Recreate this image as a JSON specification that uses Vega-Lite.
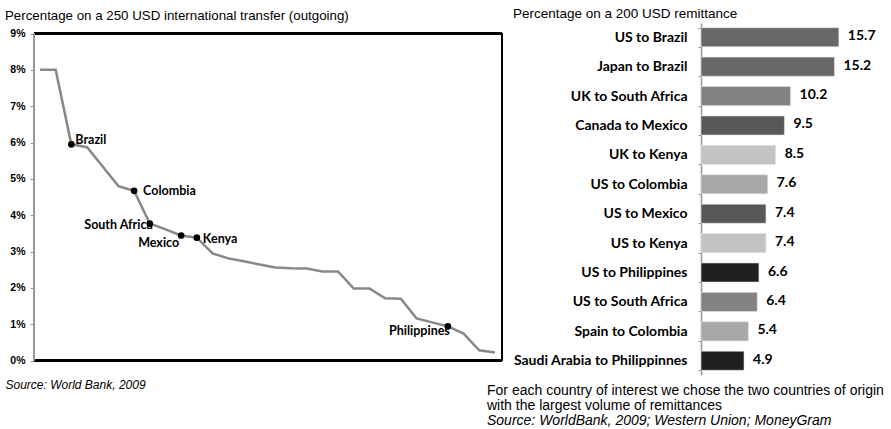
{
  "$schema": "https://vega.github.io/schema/vega-lite/v6.json",
  "padding": {"left": 5, "top": 7, "right": 0, "bottom": 0},
  "background": "white",
  "datasets": {
    "transfer": [
      {"rank": 0, "pct": 8.0, "country": ""},
      {"rank": 1, "pct": 8.0, "country": ""},
      {"rank": 2, "pct": 5.95, "country": "Brazil"},
      {"rank": 3, "pct": 5.87, "country": ""},
      {"rank": 4, "pct": 5.34, "country": ""},
      {"rank": 5, "pct": 4.8, "country": ""},
      {"rank": 6, "pct": 4.67, "country": "Colombia"},
      {"rank": 7, "pct": 3.77, "country": "South Africa"},
      {"rank": 8, "pct": 3.61, "country": ""},
      {"rank": 9, "pct": 3.44, "country": "Mexico"},
      {"rank": 10, "pct": 3.38, "country": "Kenya"},
      {"rank": 11, "pct": 2.95, "country": ""},
      {"rank": 12, "pct": 2.81, "country": ""},
      {"rank": 13, "pct": 2.73, "country": ""},
      {"rank": 14, "pct": 2.64, "country": ""},
      {"rank": 15, "pct": 2.56, "country": ""},
      {"rank": 16, "pct": 2.54, "country": ""},
      {"rank": 17, "pct": 2.53, "country": ""},
      {"rank": 18, "pct": 2.45, "country": ""},
      {"rank": 19, "pct": 2.45, "country": ""},
      {"rank": 20, "pct": 1.98, "country": ""},
      {"rank": 21, "pct": 1.98, "country": ""},
      {"rank": 22, "pct": 1.71, "country": ""},
      {"rank": 23, "pct": 1.7, "country": ""},
      {"rank": 24, "pct": 1.16, "country": ""},
      {"rank": 25, "pct": 1.05, "country": ""},
      {"rank": 26, "pct": 0.94, "country": "Philippines"},
      {"rank": 27, "pct": 0.74, "country": ""},
      {"rank": 28, "pct": 0.28, "country": ""},
      {"rank": 29, "pct": 0.22, "country": ""}
    ],
    "remit": [
      {"corridor": "US to Brazil", "value": 15.7, "dest": "Brazil"},
      {"corridor": "Japan to Brazil", "value": 15.2, "dest": "Brazil"},
      {"corridor": "UK to South Africa", "value": 10.2, "dest": "South Africa"},
      {"corridor": "Canada to Mexico", "value": 9.5, "dest": "Mexico"},
      {"corridor": "UK to Kenya", "value": 8.5, "dest": "Kenya"},
      {"corridor": "US to Colombia", "value": 7.6, "dest": "Colombia"},
      {"corridor": "US to Mexico", "value": 7.4, "dest": "Mexico"},
      {"corridor": "US to Kenya", "value": 7.4, "dest": "Kenya"},
      {"corridor": "US to Philippines", "value": 6.6, "dest": "Philippines"},
      {"corridor": "US to South Africa", "value": 6.4, "dest": "South Africa"},
      {"corridor": "Spain to Colombia", "value": 5.4, "dest": "Colombia"},
      {"corridor": "Saudi Arabia to Philippinnes", "value": 4.9, "dest": "Philippines"}
    ]
  },
  "title": {
    "text": ["For each country of interest we chose the two countries of origin", "with  the largest volume of remittances"],
    "subtitle": "Source: WorldBank, 2009; Western Union; MoneyGram",
    "orient": "bottom",
    "anchor": "start",
    "frame": "bounds",
    "dx": 482,
    "offset": -7,
    "font": "Liberation Sans",
    "fontSize": 14,
    "fontWeight": "normal",
    "color": "#000",
    "lineHeight": 15,
    "subtitleFont": "Liberation Sans",
    "subtitleFontSize": 14,
    "subtitleFontStyle": "italic",
    "subtitleColor": "#000",
    "subtitlePadding": 1
  },
  "spacing": 8,
  "hconcat": [
    {
      "width": 468,
      "height": 337.5,
      "view": {"stroke": null},
      "title": {
        "text": "Percentage on a 250 USD international transfer (outgoing)",
        "anchor": "start",
        "frame": "bounds",
        "offset": 0.5,
        "font": "Liberation Sans",
        "fontSize": 13.3,
        "fontWeight": "normal",
        "color": "#000"
      },
      "data": {"name": "transfer"},
      "encoding": {
        "x": {
          "field": "rank",
          "type": "quantitative",
          "scale": {"domain": [-0.38, 29.45], "nice": false, "zero": false},
          "axis": {
            "domain": false, "ticks": false, "labels": false, "grid": false,
            "title": "Source: World Bank, 2009",
            "titleFont": "Liberation Sans", "titleFontSize": 12, "titleFontStyle": "italic",
            "titleFontWeight": "normal", "titleColor": "#000",
            "titleAnchor": "start", "titleAlign": "left", "titleX": -29, "titlePadding": 19
          }
        },
        "y": {
          "field": "pct",
          "type": "quantitative",
          "scale": {"domain": [0, 9.289], "nice": false},
          "axis": {
            "values": [0, 1, 2, 3, 4, 5, 6, 7, 8, 9],
            "labelExpr": "datum.value + '%'",
            "grid": false, "title": null, "domain": false,
            "tickColor": "#999", "tickSize": 4,
            "labelFont": "Liberation Sans", "labelFontSize": 10.5, "labelFontWeight": "bold",
            "labelColor": "#000", "labelPadding": 5
          }
        }
      },
      "layer": [
        {"mark": {"type": "rule", "color": "#000", "strokeWidth": 2.5}, "encoding": {"x": null, "y": {"datum": 9}}},
        {"mark": {"type": "rule", "color": "#000", "strokeWidth": 2.5}, "encoding": {"x": null, "y": {"datum": 0}}},
        {"mark": {"type": "rule", "color": "#999", "strokeWidth": 1.5}, "encoding": {"x": {"datum": -0.38}, "y": {"datum": 0}, "y2": {"datum": 9}}},
        {"mark": {"type": "rule", "color": "#000", "strokeWidth": 1}, "encoding": {"x": {"datum": 29.45}, "y": {"datum": 0}, "y2": {"datum": 9}}},
        {"mark": {"type": "line", "color": "#888888", "strokeWidth": 2.5}},
        {"transform": [{"filter": "datum.country != ''"}], "mark": {"type": "point", "filled": true, "color": "#000", "size": 45, "opacity": 1}},
        {"transform": [{"filter": "datum.country == 'Brazil'"}], "mark": {"type": "text", "align": "left", "dx": 4, "dy": -4, "font": "Lato", "fontSize": 12.5, "fontWeight": "bold", "color": "#000"}, "encoding": {"text": {"field": "country"}}},
        {"transform": [{"filter": "datum.country == 'Colombia'"}], "mark": {"type": "text", "align": "left", "dx": 9, "dy": 0, "font": "Lato", "fontSize": 12.5, "fontWeight": "bold", "color": "#000"}, "encoding": {"text": {"field": "country"}}},
        {"transform": [{"filter": "datum.country == 'South Africa'"}], "mark": {"type": "text", "align": "right", "dx": 3, "dy": 1, "font": "Lato", "fontSize": 12.5, "fontWeight": "bold", "color": "#000"}, "encoding": {"text": {"field": "country"}}},
        {"transform": [{"filter": "datum.country == 'Mexico'"}], "mark": {"type": "text", "align": "right", "dx": -2, "dy": 7, "font": "Lato", "fontSize": 12.5, "fontWeight": "bold", "color": "#000"}, "encoding": {"text": {"field": "country"}}},
        {"transform": [{"filter": "datum.country == 'Kenya'"}], "mark": {"type": "text", "align": "left", "dx": 6, "dy": 1, "font": "Lato", "fontSize": 12.5, "fontWeight": "bold", "color": "#000"}, "encoding": {"text": {"field": "country"}}},
        {"transform": [{"filter": "datum.country == 'Philippines'"}], "mark": {"type": "text", "align": "right", "dx": 2, "dy": 5, "font": "Lato", "fontSize": 12.5, "fontWeight": "bold", "color": "#000"}, "encoding": {"text": {"field": "country"}}}
      ]
    },
    {
      "width": 180,
      "height": 352,
      "view": {"stroke": null},
      "title": {
        "text": "Percentage on a 200 USD remittance",
        "anchor": "start",
        "frame": "bounds",
        "offset": -4.5,
        "font": "Liberation Sans",
        "fontSize": 13.5,
        "fontWeight": "normal",
        "color": "#000"
      },
      "data": {"name": "remit"},
      "encoding": {
        "y": {
          "field": "corridor",
          "type": "nominal",
          "sort": null,
          "scale": {"paddingInner": 0.35, "paddingOuter": 0.16},
          "axis": {
            "title": null,
            "domainColor": "#999", "domainWidth": 1.5,
            "tickColor": "#999", "tickSize": 3, "tickBand": "extent",
            "labelFont": "Lato", "labelFontSize": 14, "labelFontWeight": "bold",
            "labelColor": "#000", "labelPadding": 11
          }
        },
        "x": {
          "field": "value",
          "type": "quantitative",
          "scale": {"domain": [0, 20.5], "nice": false},
          "axis": null
        }
      },
      "layer": [
        {
          "mark": {"type": "bar", "stroke": "#e6e6e6", "strokeWidth": 0.6},
          "encoding": {
            "color": {
              "field": "dest",
              "type": "nominal",
              "legend": null,
              "scale": {
                "domain": ["Brazil", "South Africa", "Mexico", "Kenya", "Colombia", "Philippines"],
                "range": ["#686868", "#838383", "#585858", "#c3c3c3", "#a8a8a8", "#202020"]
              }
            }
          }
        },
        {
          "mark": {"type": "text", "align": "left", "dx": 9, "dy": -1, "font": "Lato", "fontSize": 14, "fontWeight": "bold", "color": "#000"},
          "encoding": {"text": {"field": "value", "type": "quantitative", "format": ".1f"}}
        }
      ]
    }
  ]
}
